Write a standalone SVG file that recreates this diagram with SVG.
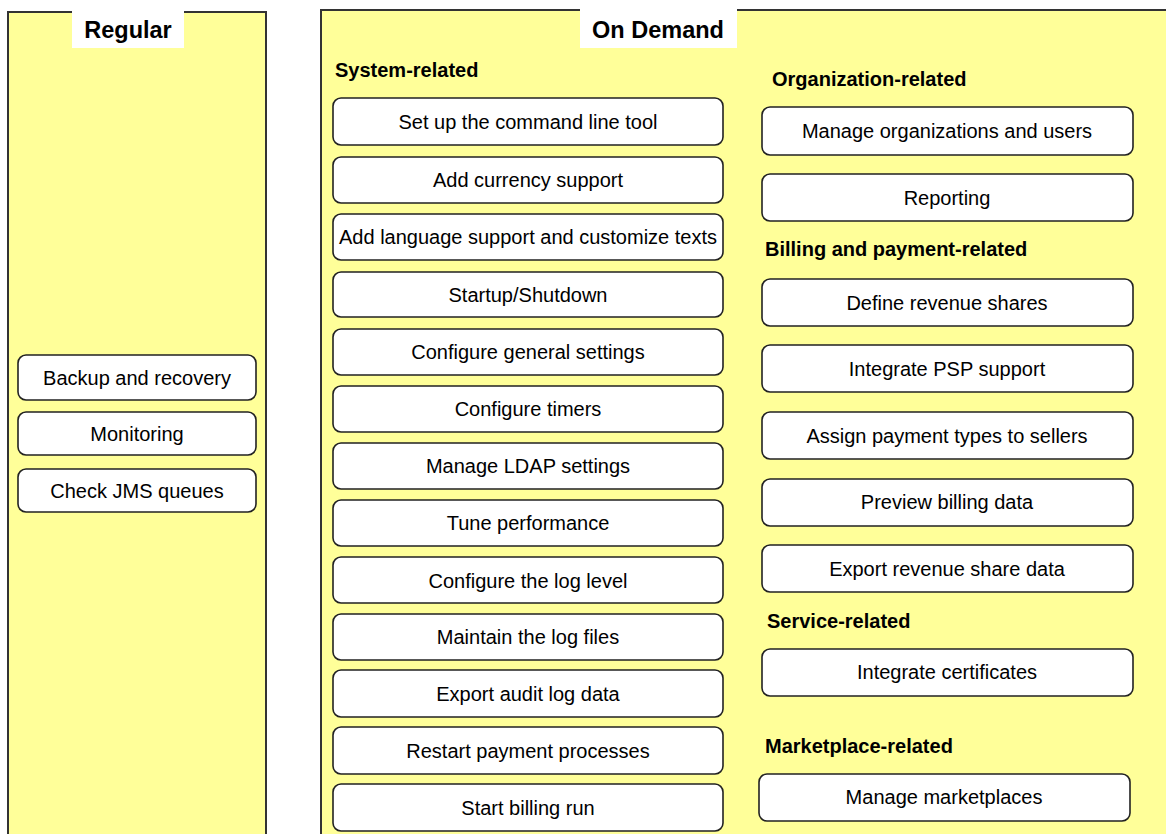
<svg xmlns="http://www.w3.org/2000/svg" width="1166" height="834" viewBox="0 0 1166 834">
<style>
.panel{fill:#FFFF99;stroke:#333;stroke-width:2}
.hdr{fill:#fff}
.title{font-family:"Liberation Sans",Arial,sans-serif;font-weight:bold;font-size:23.5px;fill:#000;text-anchor:middle}
.sec{font-family:"Liberation Sans",Arial,sans-serif;font-weight:bold;font-size:20px;fill:#000}
.box{fill:#fff;stroke:#222;stroke-width:1.6}
.lbl{font-family:"Liberation Sans",Arial,sans-serif;font-size:20px;fill:#000;text-anchor:middle;dominant-baseline:central}
</style>
<rect width="1166" height="834" fill="#fff"/>
<g id="regular">
<rect class="panel" x="8" y="12" width="258" height="840"/>
<rect class="hdr" x="72" y="11" width="112" height="37"/>
<text class="title" x="128" y="38">Regular</text>
</g>
<g id="ondemand">
<rect class="panel" x="321" y="10" width="860" height="840"/>
<rect class="hdr" x="580" y="9" width="157" height="39"/>
<text class="title" x="658" y="38">On Demand</text>
<text class="sec" x="335" y="77">System-related</text>
<text class="sec" x="772" y="86">Organization-related</text>
<text class="sec" x="765" y="256">Billing and payment-related</text>
<text class="sec" x="767" y="628">Service-related</text>
<text class="sec" x="765" y="753">Marketplace-related</text>
</g>
<g id="connectors"></g>
<g id="n-backup"><rect class="box" x="18" y="355" width="238" height="45" rx="8"/><text class="lbl" x="137" y="378">Backup and recovery</text></g>
<g id="n-monitoring"><rect class="box" x="18" y="412" width="238" height="43" rx="8"/><text class="lbl" x="137" y="434">Monitoring</text></g>
<g id="n-jms"><rect class="box" x="18" y="469" width="238" height="43" rx="8"/><text class="lbl" x="137" y="491">Check JMS queues</text></g>

<g id="n-cli"><rect class="box" x="333" y="98" width="390" height="47" rx="8"/><text class="lbl" x="528" y="122">Set up the command line tool</text></g>
<g id="n-currency"><rect class="box" x="333" y="157" width="390" height="46" rx="8"/><text class="lbl" x="528" y="180">Add currency support</text></g>
<g id="n-language"><rect class="box" x="333" y="214" width="390" height="46" rx="8"/><text class="lbl" x="528" y="237">Add language support and customize texts</text></g>
<g id="n-startup"><rect class="box" x="333" y="272" width="390" height="45" rx="8"/><text class="lbl" x="528" y="295">Startup/Shutdown</text></g>
<g id="n-general"><rect class="box" x="333" y="329" width="390" height="46" rx="8"/><text class="lbl" x="528" y="352">Configure general settings</text></g>
<g id="n-timers"><rect class="box" x="333" y="386" width="390" height="46" rx="8"/><text class="lbl" x="528" y="409">Configure timers</text></g>
<g id="n-ldap"><rect class="box" x="333" y="443" width="390" height="46" rx="8"/><text class="lbl" x="528" y="466">Manage LDAP settings</text></g>
<g id="n-tune"><rect class="box" x="333" y="500" width="390" height="46" rx="8"/><text class="lbl" x="528" y="523">Tune performance</text></g>
<g id="n-loglevel"><rect class="box" x="333" y="557" width="390" height="46" rx="8"/><text class="lbl" x="528" y="581">Configure the log level</text></g>
<g id="n-logfiles"><rect class="box" x="333" y="614" width="390" height="46" rx="8"/><text class="lbl" x="528" y="637">Maintain the log files</text></g>
<g id="n-audit"><rect class="box" x="333" y="670" width="390" height="47" rx="8"/><text class="lbl" x="528" y="694">Export audit log data</text></g>
<g id="n-restart"><rect class="box" x="333" y="727" width="390" height="47" rx="8"/><text class="lbl" x="528" y="751">Restart payment processes</text></g>
<g id="n-billing"><rect class="box" x="333" y="784" width="390" height="47" rx="8"/><text class="lbl" x="528" y="808">Start billing run</text></g>

<g id="n-orgs"><rect class="box" x="762" y="107" width="371" height="48" rx="8"/><text class="lbl" x="947" y="131">Manage organizations and users</text></g>
<g id="n-reporting"><rect class="box" x="762" y="174" width="371" height="47" rx="8"/><text class="lbl" x="947" y="198">Reporting</text></g>
<g id="n-revshares"><rect class="box" x="762" y="279" width="371" height="47" rx="8"/><text class="lbl" x="947" y="303">Define revenue shares</text></g>
<g id="n-psp"><rect class="box" x="762" y="345" width="371" height="47" rx="8"/><text class="lbl" x="947" y="369">Integrate PSP support</text></g>
<g id="n-paytypes"><rect class="box" x="762" y="412" width="371" height="47" rx="8"/><text class="lbl" x="947" y="436">Assign payment types to sellers</text></g>
<g id="n-preview"><rect class="box" x="762" y="479" width="371" height="47" rx="8"/><text class="lbl" x="947" y="502">Preview billing data</text></g>
<g id="n-exportrev"><rect class="box" x="762" y="545" width="371" height="47" rx="8"/><text class="lbl" x="947" y="569">Export revenue share data</text></g>
<g id="n-certs"><rect class="box" x="762" y="649" width="371" height="47" rx="8"/><text class="lbl" x="947" y="672">Integrate certificates</text></g>
<g id="n-market"><rect class="box" x="759" y="774" width="371" height="47" rx="8"/><text class="lbl" x="944" y="797">Manage marketplaces</text></g>
</svg>
